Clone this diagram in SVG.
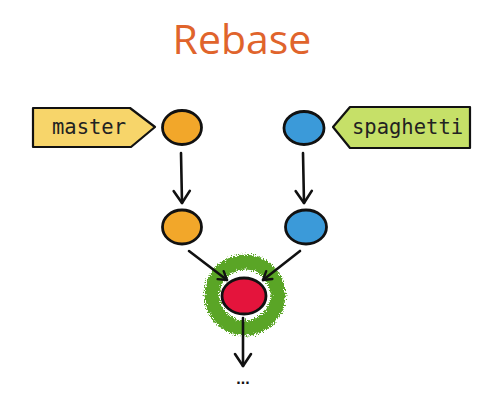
<svg xmlns="http://www.w3.org/2000/svg" width="502" height="406" viewBox="0 0 502 406">
<style>
.node{stroke:#111;stroke-width:2.8}
.lbl{stroke:#111;stroke-width:2.2;stroke-linejoin:round}
.ltxt{font-family:"DejaVu Sans Mono","Liberation Mono",monospace;font-size:20.5px;fill:#222}
.edge{stroke:#111;stroke-width:2.6;fill:none;stroke-linecap:round;stroke-linejoin:round}
</style>
<defs>
<marker id="ah" viewBox="0 0 16 20" refX="14" refY="10" markerWidth="16" markerHeight="20" markerUnits="userSpaceOnUse" orient="auto">
<path d="M2,2 L14,10 L2,18" fill="none" stroke="#111" stroke-width="2.6" stroke-linecap="round" stroke-linejoin="round"/>
</marker>
<marker id="ahs" viewBox="0 0 12 14" refX="10" refY="7" markerWidth="12" markerHeight="14" markerUnits="userSpaceOnUse" orient="auto">
<path d="M2,2 L10,7 L2,12" fill="none" stroke="#111" stroke-width="2.4" stroke-linecap="round" stroke-linejoin="round"/>
</marker>
<filter id="rough" x="-30%" y="-30%" width="160%" height="160%">
<feTurbulence type="fractalNoise" baseFrequency="0.9" numOctaves="2" seed="3" result="n"/>
<feDisplacementMap in="SourceGraphic" in2="n" scale="8" xChannelSelector="R" yChannelSelector="G"/>
</filter>
</defs>
<rect width="502" height="406" fill="#fff"/>
<text x="242" y="54" text-anchor="middle" font-family="'Open Sans','Noto Sans',sans-serif" font-size="41" fill="#e0642c">Rebase</text>

<g id="label-master">
<path class="lbl" d="M33,108 L130,108 L155,127 L131,147 L33,147 Z" fill="#f7d56a"/>
<text class="ltxt" x="52" y="134">master</text>
</g>
<g id="label-spaghetti">
<path class="lbl" d="M470,107 L350,107 L333,127 L350,148 L470,148 Z" fill="#c6e068"/>
<text class="ltxt" x="352" y="134">spaghetti</text>
</g>

<g id="master-1"><ellipse class="node" cx="182" cy="127.5" rx="19.5" ry="17" fill="#f2a72a"/></g>
<g id="spaghetti-1"><ellipse class="node" cx="304" cy="128" rx="20" ry="16.5" fill="#3b9ad9"/></g>
<g id="master-2"><ellipse class="node" cx="182" cy="227" rx="19.5" ry="17" fill="#f2a72a"/></g>
<g id="spaghetti-2"><ellipse class="node" cx="306" cy="227" rx="20.5" ry="17" fill="#3b9ad9"/></g>
<g id="merge">
<circle cx="245" cy="295" r="33" fill="none" stroke="#5aa526" stroke-width="15" filter="url(#rough)"/>
<ellipse class="node" cx="244" cy="296" rx="22" ry="18" fill="#e4143c"/>
</g>

<g id="connectors">
<path class="edge" d="M181,153 L182,203" marker-end="url(#ah)"/>
<path class="edge" d="M303,153 L304,203" marker-end="url(#ah)"/>
<path class="edge" d="M189,251 L227,280" marker-end="url(#ahs)"/>
<path class="edge" d="M300,251 L263,280" marker-end="url(#ahs)"/>
<path class="edge" d="M243,318 L243,366" marker-end="url(#ah)"/>
</g>
<text x="243" y="384" text-anchor="middle" font-family="'Liberation Sans',sans-serif" font-size="16" font-weight="bold" fill="#111">...</text>
</svg>
